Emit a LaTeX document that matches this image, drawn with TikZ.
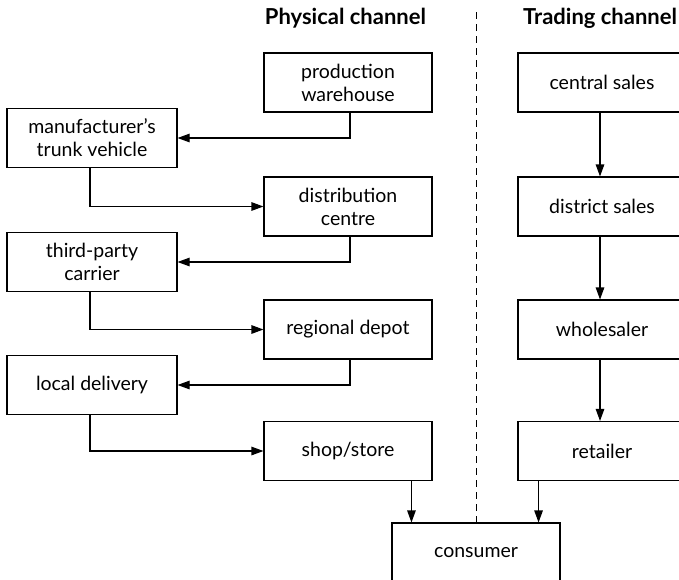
\documentclass[tikz,border=0pt]{standalone}
\usepackage{fontspec}
\setmainfont{Lato}
\usetikzlibrary{arrows.meta,calc}
\begin{document}
\begin{tikzpicture}[x=1pt,y=-1pt,
  box/.style={draw, line width=1.1pt, minimum height=59pt, inner sep=0pt,
    align=center, font=\fontsize{19.5}{23}\selectfont},
  lbox/.style={box, minimum width=170pt},
  mbox/.style={box, minimum width=168pt},
  arr/.style={line width=1.1pt, -{Triangle[length=12pt,width=8.5pt]}},
  ttl/.style={font=\fontsize{22}{26}\selectfont\bfseries, inner sep=0pt}]
\useasboundingbox (0,0) rectangle (679,579);
\clip (0,0) rectangle (679,579);
\fill[white] (0,0) rectangle (679,579);
% titles
\node[ttl] (tphys) at (345.5,18) {Physical channel};
\node[ttl, anchor=west] (ttrad) at (523,18) {Trading channel};
% physical channel
\node[mbox] (prod) at (348,82.5) {production\\warehouse};
\node[lbox] (mtv) at (92,138) {manufacturer’s\\trunk vehicle};
\node[mbox] (dc) at (348,206.5) {distribution\\centre};
\node[lbox] (tpc) at (92,262) {third-party\\carrier};
\node[mbox] (rd) at (348,329.5) {regional depot};
\node[lbox] (ld) at (92,385) {local delivery};
\node[mbox] (shop) at (348,451) {shop/store};
% trading channel
\node[mbox] (cs) at (602,82.5) {central sales};
\node[mbox] (ds) at (602,206.5) {district sales};
\node[mbox] (ws) at (602,329.5) {wholesaler};
\node[mbox] (ret) at (602,451) {retailer};
% consumer
\node[mbox] (cons) at (476,552.5) {consumer};
% connectors
\draw[arr] ([xshift=2pt]prod.south) |- (mtv.east);
\draw[arr] ([xshift=-2pt]mtv.south) |- (dc.west);
\draw[arr] ([xshift=2pt]dc.south) |- (tpc.east);
\draw[arr] ([xshift=-2pt]tpc.south) |- (rd.west);
\draw[arr] ([xshift=2pt]rd.south) |- (ld.east);
\draw[arr] ([xshift=-2pt]ld.south) |- (shop.west);
\draw[arr] ([xshift=-2pt]cs.south) -- ([xshift=-2pt]ds.north);
\draw[arr] ([xshift=-2pt]ds.south) -- ([xshift=-2pt]ws.north);
\draw[arr] ([xshift=-2pt]ws.south) -- ([xshift=-2pt]ret.north);
\coordinate (c1) at ($(cons.north west)+(20,0)$);
\coordinate (c2) at ($(cons.north east)+(-22,0)$);
\draw[arr] (c1 |- shop.south) -- (c1);
\draw[arr] (c2 |- ret.south) -- (c2);
% divider
\coordinate (dtop) at (476,12);
\draw[line width=1pt, dash pattern=on 7pt off 5pt] (dtop) -- (dtop |- cons.north);
\end{tikzpicture}
\end{document}
